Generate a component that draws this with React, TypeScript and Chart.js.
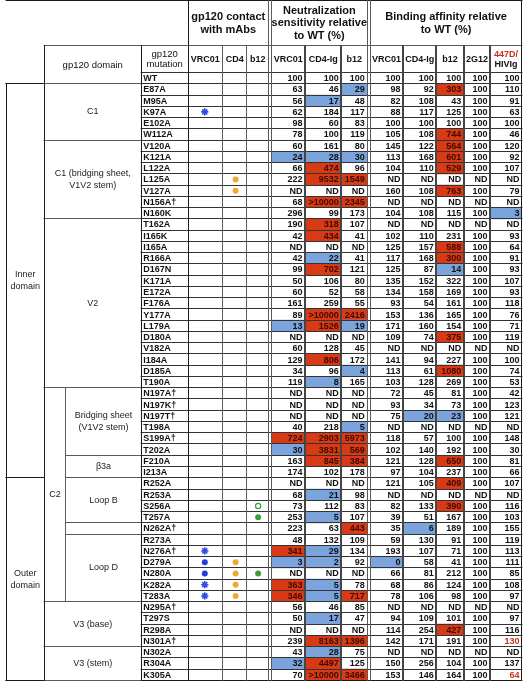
import React, { useEffect, useRef } from 'react';
import { Chart, registerables } from 'chart.js';

Chart.register(...registerables);

// ---------------- DATA ----------------
const mutations = [
  'WT', 'E87A', 'M95A', 'K97A', 'E102A', 'W112A', 'V120A', 'K121A', 'L122A', 'L125A',
  'V127A', 'N156A†', 'N160K', 'T162A', 'I165K', 'I165A', 'R166A', 'D167N', 'K171A', 'E172A',
  'F176A', 'Y177A', 'L179A', 'D180A', 'V182A', 'I184A', 'D185A', 'T190A', 'N197A†', 'N197K†',
  'N197T†', 'T198A', 'S199A†', 'T202A', 'F210A', 'I213A', 'R252A', 'R253A', 'S256A', 'T257A',
  'N262A†', 'R273A', 'N276A†', 'D279A', 'N280A', 'K282A', 'T283A', 'N295A†', 'T297S', 'R298A',
  'N301A†', 'N302A', 'R304A', 'K305A',
];

const neutVRC01 = [
  '100', '63', '56', '62', '98', '78', '60', '24', '66', '222',
  'ND', '68', '296', '190', '42', 'ND', '42', '99', '50', '60',
  '161', '89', '13', 'ND', '60', '129', '34', '119', 'ND', 'ND',
  'ND', '40', '724', '30', '163', '174', 'ND', '68', '73', '253',
  '223', '48', '341', '3', 'ND', '363', '346', '56', '50', 'ND',
  '239', '43', '32', '70',
];
const neutCD4Ig = [
  '100', '46', '17', '184', '60', '100', '161', '28', '474', '9532',
  'ND', '>10000', '99', '318', '434', 'ND', '22', '702', '106', '52',
  '259', '>10000', '1526', 'ND', '128', '806', '96', '8', 'ND', 'ND',
  'ND', '218', '2903', '3831', '845', '102', 'ND', '21', '112', '5',
  '63', '132', '29', '2', 'ND', '5', '5', '46', '17', 'ND',
  '8163', '28', '4497', '>10000',
];
const neutB12 = [
  '100', '29', '48', '117', '83', '119', '80', '30', '96', '1549',
  'ND', '2345', '173', '107', '41', 'ND', '41', '121', '80', '58',
  '55', '2416', '19', 'ND', '45', '172', '4', '165', 'ND', 'ND',
  'ND', '5', '5973', '569', '384', '178', 'ND', '98', '83', '107',
  '443', '109', '134', '92', 'ND', '78', '717', '85', '47', 'ND',
  '1396', '75', '125', '3466',
];
const bindVRC01 = [
  '100', '98', '82', '88', '100', '105', '145', '113', '104', 'ND',
  '160', 'ND', '104', 'ND', '102', '125', '117', '125', '135', '134',
  '93', '153', '171', '109', 'ND', '141', '113', '103', '72', '93',
  '75', 'ND', '118', '102', '121', '97', '121', 'ND', '82', '39',
  '35', '59', '193', '0', '66', '68', '78', 'ND', '94', '114',
  '142', 'ND', '150', '153',
];
const bindCD4Ig = [
  '100', '92', '108', '117', '100', '108', '122', '168', '110', 'ND',
  '108', 'ND', '108', 'ND', '110', '157', '168', '87', '152', '158',
  '54', '136', '160', '74', 'ND', '94', '61', '128', '45', '34',
  '20', 'ND', '57', '140', '128', '104', '105', 'ND', '133', '51',
  '6', '130', '107', '58', '81', '86', '106', 'ND', '109', '254',
  '171', 'ND', '256', '146',
];
const bindB12 = [
  '100', '303', '43', '125', '100', '744', '564', '601', '529', 'ND',
  '763', 'ND', '115', 'ND', '231', '588', '300', '14', '322', '169',
  '161', '165', '154', '375', 'ND', '227', '1080', '269', '81', '73',
  '23', 'ND', '100', '192', '650', '237', '409', 'ND', '390', '167',
  '189', '91', '71', '41', '212', '124', '98', 'ND', '101', '427',
  '191', 'ND', '104', '164',
];
const bind2G12 = [
  '100', '100', '100', '100', '100', '100', '100', '100', '100', 'ND',
  '100', 'ND', '100', 'ND', '100', '100', '100', '100', '100', '100',
  '100', '100', '100', '100', 'ND', '100', '100', '100', '100', '100',
  '100', 'ND', '100', '100', '100', '100', '100', 'ND', '100', '100',
  '100', '100', '100', '100', '100', '100', '100', 'ND', '100', '100',
  '100', 'ND', '100', '100',
];
const bind447D = [
  '100', '110', '91', '63', '100', '46', '120', '92', '107', 'ND',
  '79', 'ND', '3', 'ND', '93', '64', '91', '93', '107', '93',
  '118', '76', '71', '119', 'ND', '100', '74', '53', '42', '123',
  '121', 'ND', '148', '30', '81', '66', '107', 'ND', '116', '103',
  '155', '119', '113', '111', '85', '108', '97', 'ND', '97', '116',
  '130', 'ND', '137', '64',
];

// significant increases / decreases (highlighted cells)
const neutVRC01Up = ['S199A†', 'N276A†', 'K282A', 'T283A'];
const neutVRC01Down = ['K121A', 'L179A', 'T202A', 'D279A', 'R304A'];
const neutCD4IgUp = ['L122A', 'L125A', 'N156A†', 'T162A', 'I165K', 'D167N', 'Y177A', 'L179A', 'I184A', 'S199A†', 'T202A', 'F210A', 'N301A†', 'R304A', 'K305A'];
const neutCD4IgDown = ['M95A', 'K121A', 'R166A', 'T190A', 'R253A', 'T257A', 'N276A†', 'D279A', 'K282A', 'T283A', 'T297S', 'N302A'];
const neutB12Up = ['L125A', 'N156A†', 'Y177A', 'S199A†', 'T202A', 'F210A', 'N262A†', 'T283A', 'N301A†', 'K305A'];
const neutB12Down = ['E87A', 'K121A', 'L179A', 'D185A', 'T198A'];
const bindVRC01Up: string[] = [];
const bindVRC01Down = ['D279A'];
const bindCD4IgUp: string[] = [];
const bindCD4IgDown = ['N197T†', 'N262A†'];
const bindB12Up = ['E87A', 'W112A', 'V120A', 'K121A', 'L122A', 'V127A', 'I165A', 'R166A', 'D180A', 'D185A', 'F210A', 'R252A', 'S256A', 'R298A'];
const bindB12Down = ['D167N', 'N197T†'];
const bind2G12Up: string[] = [];
const bind2G12Down: string[] = [];
const bind447DUp: string[] = [];
const bind447DDown = ['N160K'];
const bind447DNoted = ['N301A†', 'K305A'];

// gp120 contacts with mAbs
const vrc01Contacts = [['K97A', 'asterisk'], ['N276A†', 'asterisk'], ['D279A', 'dot'], ['N280A', 'dot'], ['K282A', 'asterisk'], ['T283A', 'asterisk']];
const cd4Contacts = ['L125A', 'V127A', 'D279A', 'N280A', 'K282A', 'T283A'];
const b12Contacts = [['S256A', 'open'], ['T257A', 'dot'], ['N280A', 'dot']];

// domain structure
const regions = [['Inner\ndomain', 'E87A', 'I213A'], ['Outer\ndomain', 'R252A', 'K305A']];
const domains = [
  ['C1', 'E87A', 'W112A'],
  ['C1 (bridging sheet,\nV1V2 stem)', 'V120A', 'N160K'],
  ['V2', 'T162A', 'T190A'],
  ['C2', 'N197A†', 'T283A'],
  ['V3 (base)', 'N295A†', 'N301A†'],
  ['V3 (stem)', 'N302A', 'K305A'],
];
const subdomains = [
  ['Bridging sheet\n(V1V2 stem)', 'N197A†', 'T202A'],
  ['β3a', 'F210A', 'I213A'],
  ['Loop B', 'R252A', 'T257A'],
  ['', 'N262A†', 'N262A†'],
  ['Loop D', 'R273A', 'T283A'],
];

const contactHeaders = ['VRC01', 'CD4', 'b12'];
const valueHeaders = ['VRC01', 'CD4-Ig', 'b12', 'VRC01', 'CD4-Ig', 'b12', '2G12', '447D/\nHIVIg'];

// ---------------- LAYOUT / STYLE ----------------
const FONT = '"Liberation Sans", Arial, Helvetica, sans-serif';
const RED_FILL = '#d93a16';
const BLUE_FILL = '#7ba3dc';
const NOTE_RED = '#c83220';
const LINE = '#5a5a5a';
const DATA_LINE = '#333333';
const DATA_VLINE = '#454545';
const DARK = '#1a1a1a';

const X_LEFT = 0.5;
const X_REGION = 39.5;
const X_C2 = 61.5;
const X_DOMAIN_END = 138.5;
const X_MUT_END = 186.5;
const CONTACT_EDGES = [186.5, 221.5, 246.5, 268.5];
const CONTACT_X = [203.5, 235, 258];
const VALUE_EDGES: [number, number][] = [
  [271.5, 306], [306, 343], [343, 369.5],
  [372.5, 406], [406, 440], [440, 468], [468, 495], [495, 527.5],
];
const X_RIGHT = 527.5;
const HEADER_SPLIT = 45.5;

const valueColumns = [
  { values: neutVRC01, up: neutVRC01Up, down: neutVRC01Down, noted: [] as string[] },
  { values: neutCD4Ig, up: neutCD4IgUp, down: neutCD4IgDown, noted: [] as string[] },
  { values: neutB12, up: neutB12Up, down: neutB12Down, noted: [] as string[] },
  { values: bindVRC01, up: bindVRC01Up, down: bindVRC01Down, noted: [] as string[] },
  { values: bindCD4Ig, up: bindCD4IgUp, down: bindCD4IgDown, noted: [] as string[] },
  { values: bindB12, up: bindB12Up, down: bindB12Down, noted: [] as string[] },
  { values: bind2G12, up: bind2G12Up, down: bind2G12Down, noted: [] as string[] },
  { values: bind447D, up: bind447DUp, down: bind447DDown, noted: bind447DNoted },
];

const tablePlugin = {
  id: 'tableGrid',
  afterDatasetsDraw(chart: any) {
    const { ctx } = chart;
    const xs = chart.scales.x;
    const ys = chart.scales.y;
    const px = (v: number) => xs.getPixelForValue(v);
    const n = mutations.length;
    const rowH = ys.getPixelForValue(1) - ys.getPixelForValue(0);
    const rowTop = (i: number) => ys.getPixelForValue(i) - rowH / 2;
    const rowMid = (i: number) => ys.getPixelForValue(i);
    const idx = (m: string) => mutations.indexOf(m);
    const bodyBottom = rowTop(n);
    const snap = (v: number) => Math.round(v - 0.5) + 0.5;

    const seg = (x1: number, y1: number, x2: number, y2: number, color: string, w: number) => {
      ctx.save();
      ctx.strokeStyle = color;
      ctx.lineWidth = w;
      ctx.beginPath();
      ctx.moveTo(x1, y1);
      ctx.lineTo(x2, y2);
      ctx.stroke();
      ctx.restore();
    };
    const h = (y: number, x1: number, x2: number, color = LINE, w = 1) => {
      const yy = snap(y);
      seg(px(x1) - 0.5, yy, px(x2) + 0.5, yy, color, w);
    };
    const v = (x: number, y1: number, y2: number, color = LINE, w = 1) => {
      const xx = w % 2 === 0 ? Math.round(px(x)) : snap(px(x));
      seg(xx, y1 - 0.5, xx, y2 + 0.5, color, w);
    };

    // ---- horizontal row lines
    for (let i = 0; i <= n; i++) {
      const y = rowTop(i);
      const from = i === 1 || i === n ? X_LEFT : X_DOMAIN_END;
      h(y, from, X_RIGHT, i === n ? DARK : DATA_LINE);
    }
    regions.forEach(([, a, b]) => {
      h(rowTop(idx(a)), X_LEFT, X_REGION, DARK);
      h(rowTop(idx(b) + 1), X_LEFT, X_REGION, DARK);
    });
    domains.forEach(([, a, b]) => {
      h(rowTop(idx(a)), X_REGION, X_DOMAIN_END);
      h(rowTop(idx(b) + 1), X_REGION, X_DOMAIN_END);
    });
    subdomains.forEach(([, a, b]) => {
      h(rowTop(idx(a)), X_C2, X_DOMAIN_END);
      h(rowTop(idx(b) + 1), X_C2, X_DOMAIN_END);
    });
    h(0.5, X_LEFT, X_RIGHT, DARK);
    h(HEADER_SPLIT, X_REGION, X_RIGHT);

    // ---- vertical lines
    v(X_LEFT, rowTop(1), bodyBottom, DARK);
    v(X_REGION, HEADER_SPLIT, bodyBottom, DARK);
    const c2 = domains.find((d) => d[0] === 'C2')!;
    v(X_C2, rowTop(idx(c2[1])), rowTop(idx(c2[2]) + 1));
    v(X_DOMAIN_END, HEADER_SPLIT, bodyBottom, DARK);
    v(X_MUT_END, 0, bodyBottom, DARK);
    v(CONTACT_EDGES[1], HEADER_SPLIT, bodyBottom);
    v(CONTACT_EDGES[2], HEADER_SPLIT, bodyBottom);
    v(CONTACT_EDGES[3], 0, bodyBottom);
    VALUE_EDGES.forEach(([a, b], i) => {
      const full = i === 0 || i === 3;
      if (full) v(a, 0, bodyBottom, LINE, 1);
      if (i === VALUE_EDGES.length - 1) v(b, 0, bodyBottom, DARK);
      else if (i === 2) v(b, 0, bodyBottom, LINE, 1);
      else v(b, HEADER_SPLIT, bodyBottom, DATA_VLINE, 2);
    });

    // ---- text
    ctx.save();
    ctx.textBaseline = 'middle';
    ctx.fillStyle = '#111';

    ctx.font = `bold 11px ${FONT}`;
    ctx.textAlign = 'center';
    const cx = (a: number, b: number) => (px(a) + px(b)) / 2;
    const contactX = cx(CONTACT_EDGES[0], CONTACT_EDGES[3]);
    ctx.fillText('gp120 contact', contactX, 17);
    ctx.fillText('with mAbs', contactX, 30);
    const neutX = cx(VALUE_EDGES[0][0], VALUE_EDGES[2][1]);
    ctx.fillText('Neutralization', neutX, 10.5);
    ctx.fillText('sensitivity relative', neutX, 23);
    ctx.fillText('to WT (%)', neutX, 35.5);
    const bindX = cx(VALUE_EDGES[3][0], VALUE_EDGES[7][1]);
    ctx.fillText('Binding affinity relative', bindX, 17);
    ctx.fillText('to WT (%)', bindX, 30);

    const h2Mid = (HEADER_SPLIT + rowTop(0)) / 2 + 0.5;
    ctx.font = `bold 9px ${FONT}`;
    contactHeaders.forEach((t, i) => {
      ctx.fillText(t, cx(CONTACT_EDGES[i], CONTACT_EDGES[i + 1]), h2Mid);
    });
    valueHeaders.forEach((t, i) => {
      const [a, b] = VALUE_EDGES[i];
      const lines = t.split('\n');
      if (lines.length === 1) {
        ctx.fillText(t, cx(a, b), h2Mid);
      } else {
        ctx.fillStyle = NOTE_RED;
        ctx.fillText(lines[0], cx(a, b), h2Mid - 5);
        ctx.fillStyle = '#111';
        ctx.fillText(lines[1], cx(a, b), h2Mid + 5);
      }
    });
    ctx.font = `9.5px ${FONT}`;
    ctx.fillText('gp120', cx(X_DOMAIN_END, X_MUT_END), h2Mid - 5);
    ctx.fillText('mutation', cx(X_DOMAIN_END, X_MUT_END), h2Mid + 5);
    ctx.fillText('gp120 domain', cx(X_REGION, X_DOMAIN_END), (HEADER_SPLIT + rowTop(1)) / 2 + 0.5);

    const multi = (text: string, x: number, y: number, lh: number) => {
      const lines = text.split('\n');
      lines.forEach((l, k) => ctx.fillText(l, x, y + (k - (lines.length - 1) / 2) * lh));
    };
    ctx.font = `9px ${FONT}`;
    ctx.fillStyle = '#222';
    regions.forEach(([t, a, b]) => {
      multi(t, cx(X_LEFT, X_REGION), (rowTop(idx(a)) + rowTop(idx(b) + 1)) / 2, 12);
    });
    domains.forEach(([t, a, b]) => {
      const right = t === 'C2' ? X_C2 : X_DOMAIN_END;
      multi(t, cx(X_REGION, right), (rowTop(idx(a)) + rowTop(idx(b) + 1)) / 2, 12);
    });
    subdomains.forEach(([t, a, b]) => {
      multi(t, cx(X_C2, X_DOMAIN_END), (rowTop(idx(a)) + rowTop(idx(b) + 1)) / 2, 12);
    });

    ctx.font = `bold 9px ${FONT}`;
    ctx.textAlign = 'left';
    ctx.fillStyle = '#111';
    mutations.forEach((m, i) => ctx.fillText(m, px(X_DOMAIN_END) + 2, rowMid(i) + 0.5));

    ctx.textAlign = 'right';
    valueColumns.forEach((col, c) => {
      const right = px(VALUE_EDGES[c][1]) - 2.5;
      col.values.forEach((val, i) => {
        const m = mutations[i];
        if (col.noted.includes(m)) ctx.fillStyle = NOTE_RED;
        else if (col.up.includes(m)) ctx.fillStyle = '#3d0a00';
        else ctx.fillStyle = '#111';
        ctx.fillText(val, right, rowMid(i) + 0.5);
      });
    });
    ctx.restore();
  },
};

export default function App() {
  const canvasRef = useRef<HTMLCanvasElement | null>(null);

  useEffect(() => {
    if (!canvasRef.current) return;
    const barSets = valueColumns.map((col, c) => ({
      type: 'bar' as const,
      label: `col${c}`,
      data: mutations.map((m) =>
        col.up.includes(m) || col.down.includes(m) ? [VALUE_EDGES[c][0], VALUE_EDGES[c][1]] : null
      ),
      backgroundColor: mutations.map((m) =>
        col.up.includes(m) ? RED_FILL : col.down.includes(m) ? BLUE_FILL : 'rgba(0,0,0,0)'
      ),
      borderWidth: 0,
      grouped: false,
      barPercentage: 1,
      categoryPercentage: 1,
      indexAxis: 'y' as const,
    }));

    const scatter = (points: { x: number; y: string }[], style: any) => ({
      type: 'scatter' as const,
      data: points,
      showLine: false,
      ...style,
    });

    const markerSets = [
      scatter(
        vrc01Contacts.filter((p) => p[1] === 'asterisk').map((p) => ({ x: CONTACT_X[0], y: p[0] })),
        { pointStyle: 'star', radius: 3.6, borderColor: '#2b4fe6', backgroundColor: '#2b4fe6', borderWidth: 1.6 }
      ),
      scatter(
        vrc01Contacts.filter((p) => p[1] === 'dot').map((p) => ({ x: CONTACT_X[0], y: p[0] })),
        { pointStyle: 'circle', radius: 3, borderColor: '#1f3fe3', backgroundColor: '#1f3fe3', borderWidth: 0 }
      ),
      scatter(
        cd4Contacts.map((m) => ({ x: CONTACT_X[1], y: m })),
        { pointStyle: 'circle', radius: 3, borderColor: '#f0a832', backgroundColor: '#f0a832', borderWidth: 0 }
      ),
      scatter(
        b12Contacts.filter((p) => p[1] === 'dot').map((p) => ({ x: CONTACT_X[2], y: p[0] })),
        { pointStyle: 'circle', radius: 3, borderColor: '#3b9e3b', backgroundColor: '#3b9e3b', borderWidth: 0 }
      ),
      scatter(
        b12Contacts.filter((p) => p[1] === 'open').map((p) => ({ x: CONTACT_X[2], y: p[0] })),
        { pointStyle: 'circle', radius: 2.6, borderColor: '#3b9e3b', backgroundColor: '#ffffff', borderWidth: 1.2 }
      ),
    ];

    const chart = new Chart(canvasRef.current, {
      type: 'bar',
      data: {
        labels: mutations,
        datasets: [...markerSets, ...barSets] as any,
      },
      options: {
        indexAxis: 'y',
        responsive: false,
        maintainAspectRatio: false,
        animation: false,
        events: [],
        layout: { padding: { top: 72.5, bottom: 2.6, left: 0, right: 0 } },
        plugins: { legend: { display: false }, tooltip: { enabled: false } },
        scales: {
          x: { type: 'linear', min: 0, max: 528, display: false },
          y: { type: 'category', labels: mutations, offset: true, display: false },
        },
      } as any,
      plugins: [tablePlugin],
    });
    return () => chart.destroy();
  }, []);

  return (
    <div style={{ position: 'fixed', left: 0, top: 0, width: 528, height: 686, background: '#fff' }}>
      <canvas ref={canvasRef} width={528} height={686} style={{ display: 'block' }} />
    </div>
  );
}
